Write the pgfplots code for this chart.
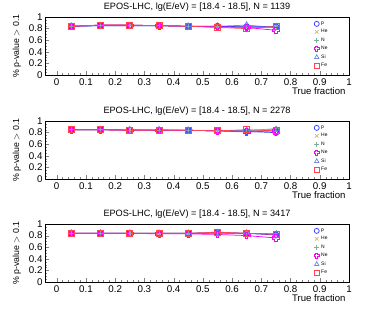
\documentclass[border=0pt]{standalone}
\usepackage{fontspec}
\setmainfont{Liberation Sans}
\usepackage{pgfplots}
\pgfplotsset{compat=1.18}
\definecolor{cp}{RGB}{50,60,255}
\definecolor{che}{RGB}{205,185,130}
\definecolor{cn}{RGB}{125,175,155}
\definecolor{cne}{RGB}{250,0,250}
\definecolor{csi}{RGB}{110,140,225}
\definecolor{cfe}{RGB}{255,70,80}
\pgfdeclareplotmark{opencross}{%
  \pgfpathmoveto{\pgfqpoint{-0.35\pgfplotmarksize}{\pgfplotmarksize}}%
  \pgfpathlineto{\pgfqpoint{0.35\pgfplotmarksize}{\pgfplotmarksize}}%
  \pgfpathlineto{\pgfqpoint{0.35\pgfplotmarksize}{0.35\pgfplotmarksize}}%
  \pgfpathlineto{\pgfqpoint{\pgfplotmarksize}{0.35\pgfplotmarksize}}%
  \pgfpathlineto{\pgfqpoint{\pgfplotmarksize}{-0.35\pgfplotmarksize}}%
  \pgfpathlineto{\pgfqpoint{0.35\pgfplotmarksize}{-0.35\pgfplotmarksize}}%
  \pgfpathlineto{\pgfqpoint{0.35\pgfplotmarksize}{-\pgfplotmarksize}}%
  \pgfpathlineto{\pgfqpoint{-0.35\pgfplotmarksize}{-\pgfplotmarksize}}%
  \pgfpathlineto{\pgfqpoint{-0.35\pgfplotmarksize}{-0.35\pgfplotmarksize}}%
  \pgfpathlineto{\pgfqpoint{-\pgfplotmarksize}{-0.35\pgfplotmarksize}}%
  \pgfpathlineto{\pgfqpoint{-\pgfplotmarksize}{0.35\pgfplotmarksize}}%
  \pgfpathlineto{\pgfqpoint{-0.35\pgfplotmarksize}{0.35\pgfplotmarksize}}%
  \pgfpathclose\pgfusepathqstroke}
\tikzset{
  sp/.style={color=cp, mark=o, mark size=3bp, line width=0.75pt},
  she/.style={color=che, mark=x, mark size=3bp, line width=0.75pt},
  sn/.style={color=cn, mark=+, mark size=3bp, line width=0.75pt},
  sne/.style={color=cne, mark=opencross, mark size=3.2bp, line width=0.75pt},
  ssi/.style={color=csi, mark=triangle, mark size=3.4bp, line width=0.75pt},
  sfe/.style={color=cfe, mark=square, mark size=3bp, line width=0.75pt},
  lg/.style={mark size=2.5bp},
}
\pgfplotsset{
  myaxis/.style={
    scale only axis, width=304bp, height=58bp, anchor=south west,
    xmin=-0.04, xmax=1, ymin=0, ymax=1,
    xtick={0,0.1,...,1}, ytick={0,0.2,...,1},
    minor x tick num=4, minor y tick num=3,
    tick align=inside, tick pos=left,
    major tick length=4bp, minor tick length=2bp,
    tick label style={font=\fontsize{9.8}{11}\selectfont},
    yticklabel style={xshift=1bp},
    /pgf/number format/assume math mode=true,
    /pgf/number format/fixed,
    title style={font=\fontsize{9.2}{11}\selectfont, yshift=-3.5bp},
    xlabel={True fraction},
    xlabel style={font=\fontsize{9.6}{11}\selectfont, at={(axis description cs:1,0)}, anchor=north east, yshift=-9.5bp},
    ylabel={\% p-value $>$ 0.1},
    ylabel style={font=\fontsize{8.8}{10}\selectfont, yshift=1bp},
    legend style={draw=none, fill=none, at={(axis description cs:0.885,0.955)}, anchor=north west,
      font=\fontsize{5}{6}\selectfont, row sep=-0.5bp, inner sep=0pt},
    legend cell align=left,
  }
}
\begin{document}
\begin{tikzpicture}
\path[use as bounding box] (0bp,0bp) rectangle (392bp,310bp);
% Panel 1
\begin{axis}[myaxis, at={(45bp,235bp)}, title={EPOS-LHC, lg(E/eV) = [18.4 - 18.5], N = 1139}]
\addplot[she, forget plot] coordinates {(0.05,0.84)(0.15,0.86)(0.25,0.86)(0.35,0.85)(0.45,0.84)(0.55,0.83)(0.65,0.82)(0.75,0.82)};
\addplot[sn, forget plot] coordinates {(0.05,0.84)(0.15,0.86)(0.25,0.86)(0.35,0.85)(0.45,0.84)(0.55,0.83)(0.65,0.83)(0.75,0.82)};
\addplot[ssi, forget plot] coordinates {(0.05,0.84)(0.15,0.85)(0.25,0.85)(0.35,0.85)(0.45,0.84)(0.55,0.84)(0.65,0.86)(0.75,0.82)};
\addplot[sp, forget plot] coordinates {(0.05,0.84)(0.15,0.85)(0.25,0.85)(0.35,0.85)(0.45,0.84)(0.55,0.84)(0.65,0.83)(0.75,0.83)};
\addplot[sne, forget plot] coordinates {(0.05,0.84)(0.15,0.86)(0.25,0.86)(0.35,0.85)(0.45,0.84)(0.55,0.83)(0.65,0.82)(0.75,0.77)};
\addplot[sfe, forget plot] coordinates {(0.05,0.84)(0.15,0.86)(0.25,0.86)(0.35,0.85)(0.45,0.84)(0.55,0.82)(0.65,0.80)(0.75,0.84)};
\addlegendimage{only marks, sp, lg}\addlegendentry{p}
\addlegendimage{only marks, she, lg}\addlegendentry{He}
\addlegendimage{only marks, sn, lg}\addlegendentry{N}
\addlegendimage{only marks, sne, lg}\addlegendentry{Ne}
\addlegendimage{only marks, ssi, lg}\addlegendentry{Si}
\addlegendimage{only marks, sfe, lg}\addlegendentry{Fe}
\end{axis}
% Panel 2
\begin{axis}[myaxis, at={(45bp,131bp)}, title={EPOS-LHC, lg(E/eV) = [18.4 - 18.5], N = 2278}]
\addplot[she, forget plot] coordinates {(0.05,0.85)(0.15,0.85)(0.25,0.84)(0.35,0.84)(0.45,0.84)(0.55,0.83)(0.65,0.83)(0.75,0.84)};
\addplot[sn, forget plot] coordinates {(0.05,0.85)(0.15,0.85)(0.25,0.85)(0.35,0.84)(0.45,0.84)(0.55,0.83)(0.65,0.83)(0.75,0.87)};
\addplot[ssi, forget plot] coordinates {(0.05,0.85)(0.15,0.85)(0.25,0.85)(0.35,0.85)(0.45,0.84)(0.55,0.83)(0.65,0.84)(0.75,0.85)};
\addplot[sp, forget plot] coordinates {(0.05,0.85)(0.15,0.85)(0.25,0.84)(0.35,0.84)(0.45,0.84)(0.55,0.83)(0.65,0.82)(0.75,0.80)};
\addplot[sne, forget plot] coordinates {(0.05,0.85)(0.15,0.85)(0.25,0.84)(0.35,0.84)(0.45,0.84)(0.55,0.83)(0.65,0.81)(0.75,0.83)};
\addplot[sfe, forget plot] coordinates {(0.05,0.85)(0.15,0.85)(0.25,0.84)(0.35,0.84)(0.45,0.84)(0.55,0.83)(0.65,0.85)(0.75,0.83)};
\addlegendimage{only marks, sp, lg}\addlegendentry{p}
\addlegendimage{only marks, she, lg}\addlegendentry{He}
\addlegendimage{only marks, sn, lg}\addlegendentry{N}
\addlegendimage{only marks, sne, lg}\addlegendentry{Ne}
\addlegendimage{only marks, ssi, lg}\addlegendentry{Si}
\addlegendimage{only marks, sfe, lg}\addlegendentry{Fe}
\end{axis}
% Panel 3
\begin{axis}[myaxis, at={(45bp,28bp)}, title={EPOS-LHC, lg(E/eV) = [18.4 - 18.5], N = 3417}]
\addplot[she, forget plot] coordinates {(0.05,0.84)(0.15,0.84)(0.25,0.84)(0.35,0.84)(0.45,0.84)(0.55,0.84)(0.65,0.84)(0.75,0.83)};
\addplot[sn, forget plot] coordinates {(0.05,0.84)(0.15,0.84)(0.25,0.84)(0.35,0.84)(0.45,0.84)(0.55,0.84)(0.65,0.84)(0.75,0.84)};
\addplot[ssi, forget plot] coordinates {(0.05,0.84)(0.15,0.84)(0.25,0.84)(0.35,0.84)(0.45,0.84)(0.55,0.85)(0.65,0.84)(0.75,0.82)};
\addplot[sp, forget plot] coordinates {(0.05,0.84)(0.15,0.84)(0.25,0.84)(0.35,0.84)(0.45,0.84)(0.55,0.85)(0.65,0.84)(0.75,0.81)};
\addplot[sne, forget plot] coordinates {(0.05,0.84)(0.15,0.84)(0.25,0.84)(0.35,0.83)(0.45,0.83)(0.55,0.82)(0.65,0.80)(0.75,0.76)};
\addplot[sfe, forget plot] coordinates {(0.05,0.84)(0.15,0.84)(0.25,0.84)(0.35,0.84)(0.45,0.84)(0.55,0.86)(0.65,0.84)(0.75,0.82)};
\addlegendimage{only marks, sp, lg}\addlegendentry{p}
\addlegendimage{only marks, she, lg}\addlegendentry{He}
\addlegendimage{only marks, sn, lg}\addlegendentry{N}
\addlegendimage{only marks, sne, lg}\addlegendentry{Ne}
\addlegendimage{only marks, ssi, lg}\addlegendentry{Si}
\addlegendimage{only marks, sfe, lg}\addlegendentry{Fe}
\end{axis}
\end{tikzpicture}
\end{document}
